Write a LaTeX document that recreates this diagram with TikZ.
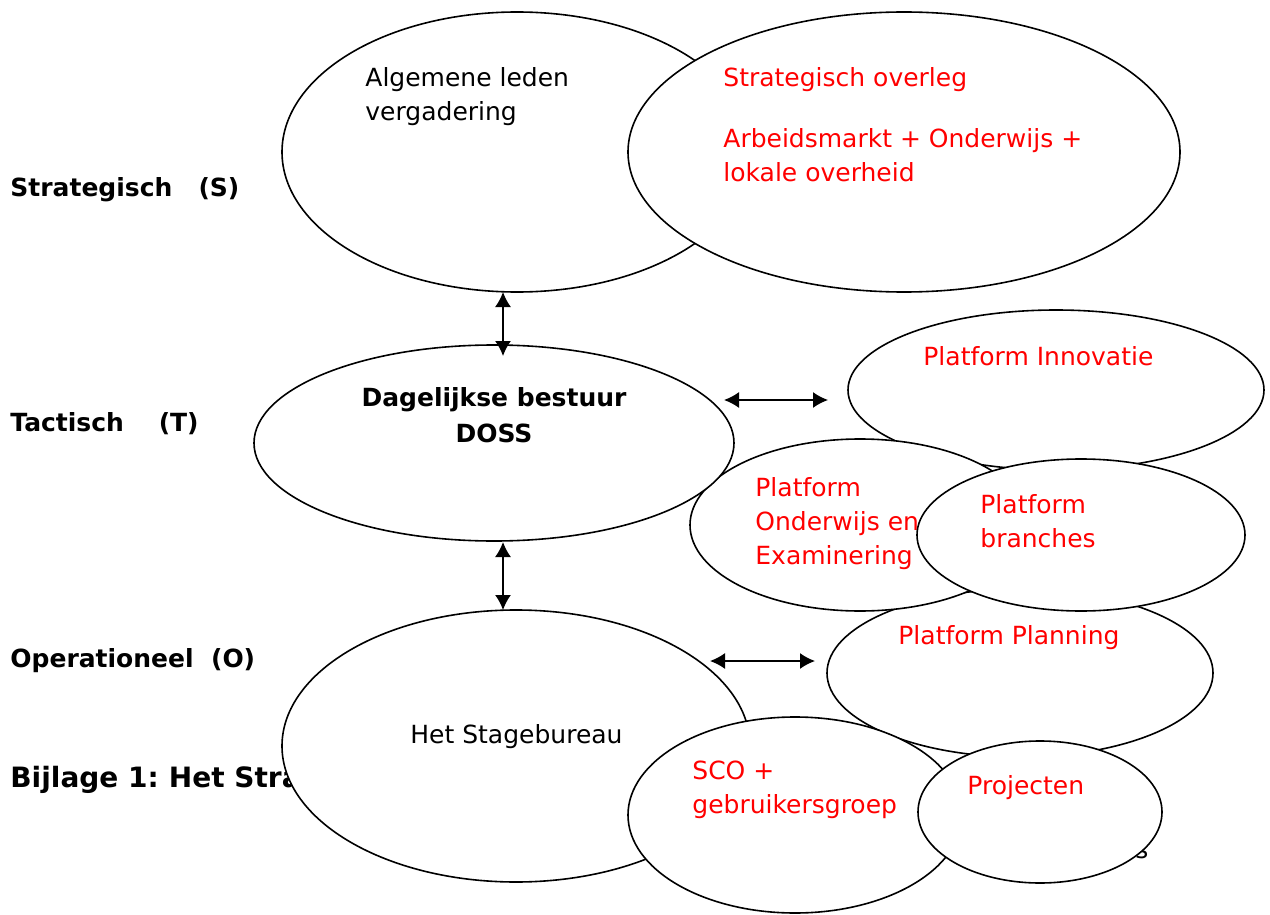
\documentclass[tikz,border=0pt]{standalone}
\usepackage{fontspec}
\setmainfont{DejaVu Sans}
\usetikzlibrary{shapes.geometric,arrows.meta}
\definecolor{platred}{RGB}{255,0,0}
\begin{document}
\begin{tikzpicture}[x=0.5pt,y=-0.5pt]
      \tikzstyle{bubble} = [ellipse, draw=black, line width=0.8pt, fill=white, inner sep=0pt]
      \tikzstyle{txt} = [anchor=north west, inner sep=0pt, align=left, font=\fontsize{12.5}{17}\selectfont]
      \tikzstyle{redtxt} = [txt, text=platred]
      \tikzstyle{level} = [anchor=west, inner sep=0pt, font=\fontsize{12.5}{17}\selectfont\bfseries]
      \tikzstyle{arrow} = [line width=0.8pt, {Latex[length=7.5pt,width=8pt]}-{Latex[length=7.5pt,width=8pt]}]

      \useasboundingbox (0,0) rectangle (1270,915);

      % levels on the left
      \node (lvS) [level] at (10,190) {Strategisch\ \ \ (S)};
      \node (lvT) [level] at (10,424) {Tactisch\ \ \ \ (T)};
      \node (lvO) [level] at (10,661) {Operationeel\ \ (O)};
      \node (title) [level, font=\fontsize{14}{17}\selectfont\bfseries] at (10,780) {Bijlage 1:\hspace{-1.5pt} Het Stra};
      \node (frag) [txt] at (1135,844) {s};

      % strategisch
      \node (alv) [bubble, minimum width=235pt, minimum height=140pt] at (517,152) {};
      \node (alvtxt) [txt] at (365,67) {Algemene leden\\vergadering};
      \node (so) [bubble, minimum width=276pt, minimum height=140pt] at (904,152) {};
      \node (sotxt) [redtxt] at (723,67) {Strategisch overleg};
      \node (amtxt) [redtxt] at (723,128) {Arbeidsmarkt + Onderwijs +\\lokale overheid};

      % tactisch
      \node (innov) [bubble, minimum width=208pt, minimum height=80pt] at (1056,390) {};
      \node (innovtxt) [redtxt] at (923,346) {Platform Innovatie};
      \node (plan) [bubble, minimum width=193pt, minimum height=84pt] at (1020,673) {};
      \node (plantxt) [redtxt] at (898,625) {Platform Planning};
      \node (oe) [bubble, minimum width=170pt, minimum height=86pt] at (860,525) {};
      \node (oetxt) [redtxt] at (755,477) {Platform\\Onderwijs en\\Examinering};
      \node (branch) [bubble, minimum width=164pt, minimum height=76pt] at (1081,535) {};
      \node (branchtxt) [redtxt] at (980,494) {Platform\\branches};
      \node (db) [bubble, minimum width=240pt, minimum height=98pt] at (494,443) {};
      \node (dbtxt) [txt, anchor=north, align=center, font=\fontsize{12.5}{18}\selectfont\bfseries] at (494,387) {Dagelijkse bestuur\\DOSS};

      % operationeel
      \node (sb) [bubble, minimum width=234pt, minimum height=136pt] at (516,746) {};
      \node (sbtxt) [txt] at (410,724) {Het Stagebureau};
      \node (sco) [bubble, minimum width=167pt, minimum height=98pt] at (795,815) {};
      \node (scotxt) [redtxt] at (692,761) {SCO +\\gebruikersgroep};
      \node (proj) [bubble, minimum width=122pt, minimum height=71pt] at (1040,812) {};
      \node (projtxt) [redtxt] at (967,775) {Projecten};

      % arrows
      \coordinate (a1) at (503,292);
      \coordinate (a2) at (503,356);
      \coordinate (b1) at (503,542);
      \coordinate (b2) at (503,610);
      \coordinate (c1) at (724,400);
      \coordinate (c2) at (828,400);
      \coordinate (d1) at (710,661);
      \coordinate (d2) at (815,661);

      \draw [arrow] (a1) -- (a2);
      \draw [arrow] (b1) -- (b2);
      \draw [arrow] (c1) -- (c2);
      \draw [arrow] (d1) -- (d2);
\end{tikzpicture}
\end{document}
